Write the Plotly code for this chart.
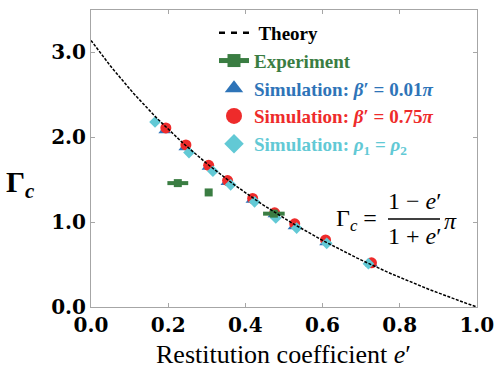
import numpy as np
import plotly.graph_objects as go

# ---- data ----
sim_blue_e = [0.191, 0.243, 0.303, 0.352, 0.417, 0.474, 0.526, 0.608, 0.727]
sim_blue_g = [2.08, 1.88, 1.65, 1.47, 1.26, 1.09, 0.95, 0.76, 0.51]

sim_red_e = [0.194, 0.246, 0.305, 0.354, 0.419, 0.476, 0.528, 0.608, 0.727]
sim_red_g = [2.11, 1.91, 1.67, 1.49, 1.28, 1.11, 0.98, 0.79, 0.52]

sim_cyan_e = [0.166, 0.254, 0.316, 0.362, 0.424, 0.479, 0.533, 0.611, 0.719]
sim_cyan_g = [2.18, 1.82, 1.60, 1.44, 1.24, 1.05, 0.93, 0.75, 0.51]

exp_e = [0.225, 0.305, 0.474]
exp_g = [1.46, 1.35, 1.10]
exp_err = [0.027, 0.006, 0.028]

# theory curve: Gamma_c = (1 - e') / (1 + e') * pi
theory_e = np.linspace(0.0, 1.0, 201)
theory_g = (1 - theory_e) / (1 + theory_e) * np.pi

x_ticks = [0.0, 0.2, 0.4, 0.6, 0.8, 1.0]
y_ticks = [0.0, 1.0, 2.0, 3.0]

BLUE = "#2e74b8"
RED = "#ee2b2b"
CYAN = "#62c9d5"
GREEN = "#3a7d42"

W, H = 494, 377
L, R, T, B = 91, 17, 10, 70
PW, PH = W - L - R, H - T - B


def px(x):
    return (x - L) / PW


def py(y):
    return (H - B - y) / PH


fig = go.Figure()

fig.add_trace(go.Scatter(x=sim_blue_e, y=sim_blue_g, mode="markers",
                         marker=dict(symbol="triangle-up", size=11, color=BLUE),
                         showlegend=False))
fig.add_trace(go.Scatter(x=sim_red_e, y=sim_red_g, mode="markers",
                         marker=dict(symbol="circle", size=11, color=RED),
                         showlegend=False))
fig.add_trace(go.Scatter(x=sim_cyan_e, y=sim_cyan_g, mode="markers",
                         marker=dict(symbol="diamond", size=9, color=CYAN),
                         showlegend=False))
fig.add_trace(go.Scatter(x=exp_e, y=exp_g, mode="markers",
                         marker=dict(symbol="square", size=8, color=GREEN),
                         error_x=dict(type="data", array=exp_err, color=GREEN,
                                      thickness=4, width=0),
                         showlegend=False))
fig.add_trace(go.Scatter(x=theory_e, y=theory_g, mode="lines",
                         line=dict(color="black", width=1.5, dash="3px,1.5px"),
                         showlegend=False))

# legend entries
fig.add_trace(go.Scatter(x=[None], y=[None], mode="lines",
                         line=dict(color="black", width=2.5, dash="6px,6px"),
                         name="<span style='color:black'> Theory</span>"))
fig.add_trace(go.Scatter(x=[None], y=[None], mode="lines+markers",
                         line=dict(color=GREEN, width=5),
                         marker=dict(symbol="square", size=13, color=GREEN),
                         name=f"<span style='color:{GREEN}'>Experiment</span>"))
fig.add_trace(go.Scatter(x=[None], y=[None], mode="markers",
                         marker=dict(symbol="triangle-up", size=16, color=BLUE),
                         name=f"<span style='color:{BLUE}'>Simulation: <i>β</i>′ = 0.01<i>π</i></span>"))
fig.add_trace(go.Scatter(x=[None], y=[None], mode="markers",
                         marker=dict(symbol="circle", size=16, color=RED),
                         name=f"<span style='color:{RED}'>Simulation: <i>β</i>′ = 0.75<i>π</i></span>"))
fig.add_trace(go.Scatter(x=[None], y=[None], mode="markers",
                         marker=dict(symbol="diamond", size=15, color=CYAN),
                         name=f"<span style='color:{CYAN}'>Simulation: <i>ρ</i><sub>1</sub> = <i>ρ</i><sub>2</sub></span>"))

axis_common = dict(showline=True, linecolor="#a6a6a6", linewidth=1, mirror="ticks",
                   ticks="inside", ticklen=4, tickcolor="#a6a6a6", showgrid=False,
                   zeroline=False, tickformat=".1f", ticklabeloverflow="allow",
                   automargin=False,
                   tickfont=dict(family="DejaVu Serif", size=20, color="black", weight="bold"))

fig.update_layout(
    width=W, height=H,
    margin=dict(l=L, r=R, t=T, b=B, autoexpand=False),
    plot_bgcolor="white", paper_bgcolor="white",
    xaxis=dict(range=[0, 1.0005], tickvals=x_ticks, **axis_common),
    yaxis=dict(range=[0, 3.5], tickvals=y_ticks, **axis_common),
    legend=dict(x=px(214), y=py(14), xanchor="left", yanchor="top",
                bgcolor="rgba(0,0,0,0)", borderwidth=0,
                font=dict(family="Liberation Serif", size=19, weight="bold"),
                itemwidth=30, tracegroupgap=0),
)

ann_font = dict(family="Liberation Serif", size=24, color="black")
annotations = [
    dict(x=px(20), y=py(184), text="<b>Γ<sub><i>c</i></sub></b>",
         font=dict(family="Liberation Serif", size=30, color="black")),
    dict(x=px(283), y=py(354), text="Restitution coefficient <i>e</i>′",
         font=dict(family="Liberation Serif", size=26, color="black")),
    dict(x=px(356), y=py(220), text="Γ<sub><i>c</i></sub> =", font=ann_font),
    dict(x=px(414), y=py(201), text="1 − <i>e</i>′", font=ann_font),
    dict(x=px(414), y=py(236), text="1 + <i>e</i>′", font=ann_font),
    dict(x=px(450), y=py(221), text="<i>π</i>", font=ann_font),
]
for a in annotations:
    a.update(xref="paper", yref="paper", showarrow=False, xanchor="center", yanchor="middle")
fig.update_layout(annotations=annotations)
fig.add_shape(type="line", xref="paper", yref="paper",
              x0=px(388), x1=px(440), y0=py(219), y1=py(219),
              line=dict(color="black", width=1.5))

fig.write_html("out.html")
